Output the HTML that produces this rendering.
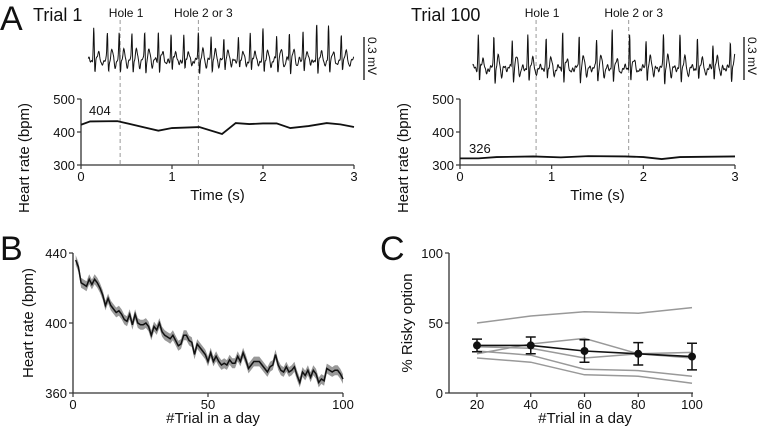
<!DOCTYPE html>
<html><head><meta charset="utf-8"><style>
html,body{margin:0;padding:0;background:#fff;}
svg{display:block;font-family:"Liberation Sans",Arial,sans-serif;}
text{fill:#111;}
</style></head><body>
<svg id="fig" width="758" height="432" viewBox="0 0 758 432" xmlns="http://www.w3.org/2000/svg">
<g id="root"></g>
</svg>
<script>
// ---------- Data ----------
const ecgLeftPeaks = [0.14,0.29,0.42,0.56,0.70,0.85,0.99,1.13,1.29,1.43,1.57,1.73,1.86,2.00,2.15,2.29,2.44,2.59,2.72,2.86];
const ecgLeftAmps  = [0.95,0.85,0.8,0.85,0.95,0.9,0.8,0.78,0.85,0.8,0.78,0.7,0.8,0.95,0.75,0.85,1.0,1.05,1.05,0.7];
const ecgRightPeaks = [0.20,0.37,0.57,0.74,0.94,1.12,1.30,1.49,1.66,1.85,2.03,2.22,2.40,2.59,2.76,2.95];
const ecgRightAmps  = [0.85,0.9,0.8,0.8,0.75,0.95,0.95,0.8,1.0,0.9,0.8,0.95,0.8,0.7,0.65,0.7];
const hrLeftT = [0,0.1,0.4,0.85,1.0,1.3,1.55,1.7,1.85,2.0,2.15,2.3,2.5,2.7,2.85,3.0];
const hrLeftV = [422,432,433,404,412,415,394,427,424,426,426,412,418,427,423,415];
const hrRightT = [0,0.2,0.4,0.8,1.1,1.4,1.8,2.0,2.2,2.4,3.0];
const hrRightV = [320,320,324,326,323,327,326,324,318,324,326];
const holeLeft = [0.43,1.29];
const holeRight = [0.83,1.84];
const hrTicks = [300,400,500];
const timeTicks = [0,1,2,3];
const trialHR = [436,432,423,422,421,425,422,425,423,420,416,410,414,410,408,406,407,405,402,401,405,399,405,400,399,399,400,398,393,398,396,400,395,393,392,391,393,390,387,388,393,393,390,389,382,388,386,384,382,378,383,378,381,378,376,377,376,379,377,377,381,378,383,379,374,376,378,378,378,376,374,372,375,376,382,376,373,372,375,372,373,375,370,366,372,370,373,369,373,371,366,368,367,374,373,372,373,373,371,368];
const trialSEM = 2.8;
const bYTicks = [360,400,440];
const bXTicks = [0,50,100];
const cX = [20,40,60,80,100];
const cMean = [34,34,30,28,26];
const cErr = [4.5,6,8,8,9.5];
const cInd1 = [50,55,58,57,61];
const cInd2 = [28,35,39,28,29];
const cInd3 = [33,32,25,28,25];
const cInd4 = [30,27,17,16,12];
const cInd5 = [25,22,13,12,7];
const cYTicks = [0,50,100];

// ---------- helpers ----------
const NS="http://www.w3.org/2000/svg";
const root=document.getElementById('root');
function mk(tag,attrs,parent){const e=document.createElementNS(NS,tag);for(const k in attrs)e.setAttribute(k,attrs[k]);(parent||root).appendChild(e);return e;}
function txt(x,y,s,size,anchor,parent,rot){const e=mk('text',{x:x,y:y,'font-size':size,'text-anchor':anchor||'start'},parent);if(rot)e.setAttribute('transform',`rotate(${rot} ${x} ${y})`);e.textContent=s;return e;}
function lin(d0,d1,r0,r1){return v=>r0+(v-d0)/(d1-d0)*(r1-r0);}
const AX='#333';
const TK=13, TT=15;

function axesA(g,x0,x1,yTop,yBot){
  const xs=lin(0,3,x0,x1), ys=lin(300,500,yBot,yTop);
  mk('line',{x1:x0,y1:ys(500),x2:x0,y2:yBot,stroke:AX,'stroke-width':1.3},g);
  mk('line',{x1:x0,y1:yBot,x2:x1,y2:yBot,stroke:AX,'stroke-width':1.3},g);
  hrTicks.forEach(v=>{mk('line',{x1:x0-4,y1:ys(v),x2:x0,y2:ys(v),stroke:AX,'stroke-width':1.2},g);
    const t=txt(x0-6,ys(v)+5,String(v),TK,'end',g);});
  timeTicks.forEach(v=>{mk('line',{x1:xs(v),y1:yBot,x2:xs(v),y2:yBot+4,stroke:AX,'stroke-width':1.2},g);
    const t=txt(xs(v),yBot+16,String(v),TK,'middle',g);});
  const yl=txt(x0-52,(yTop+yBot)/2+26,'Heart rate (bpm)',TT,'middle',g,-90);
  
  const xl=txt((x0+x1)/2,yBot+35,'Time (s)',TT,'middle',g);
  
  return {xs,ys};
}
function ecgPath(peaks,amps,xs,base,scale,t0){
  let d='';
  for(let t=t0;t<=3.0001;t+=0.003){
    let v=0;
    peaks.forEach((p,i)=>{const a=amps[i],dt=t-p;
      v+=a*Math.exp(-(dt*dt)/(2*0.005*0.005));
      v-=0.45*a*Math.exp(-((dt-0.013)**2)/(2*0.005*0.005));
      v+=0.28*Math.exp(-((dt-0.05)**2)/(2*0.012*0.012));
      v-=0.18*Math.exp(-((dt-0.085)**2)/(2*0.01*0.01));
    });
    v+=0.06*Math.sin(t*95)+0.04*Math.sin(t*231);
    d+=(d?'L':'M')+xs(t).toFixed(1)+','+(base-v*scale).toFixed(1);
  }
  return d;
}
function panelA(name,x0,x1,peaks,amps,holes,hrT,hrV,title,label,labelPos,base,scale,t0,sbx){
  const g=mk('g',{});
  const {xs,ys}=axesA(g,x0,x1,99,165);
  const tt=txt(title.x,21,title.s,18,'start',g);
  holes.forEach((h,i)=>{
    const l=mk('line',{x1:xs(h),y1:20,x2:xs(h),y2:165,stroke:'#999','stroke-width':1,'stroke-dasharray':'4,3'},g);
    
    const t=txt(xs(h)+(i?5:6),17,i?'Hole 2 or 3':'Hole 1',12,'middle',g);
  });
  const e=mk('path',{d:ecgPath(peaks,amps,xs,base,scale,t0),fill:'none',stroke:'#111','stroke-width':1},g);
  
  const sb=mk('line',{x1:sbx,y1:37,x2:sbx,y2:80,stroke:'#111','stroke-width':1.3},g);
  
  const st=txt(sbx+4,37,'0.3 mV',12,'start',g,90);
  const hp=mk('path',{d:hrT.map((t,i)=>(i?'L':'M')+xs(t)+','+ys(hrV[i])).join(''),fill:'none',stroke:'#111','stroke-width':1.8},g);
  
  const lb=txt(labelPos,label.y,label.s,TK,'start',g);
}
const A=txt(0,30,'A',34,'start');
panelA('panel-a-trial1',81,354,ecgLeftPeaks,ecgLeftAmps,holeLeft,hrLeftT,hrLeftV,{x:33,s:'Trial 1'},{s:'404',y:115},89,60,32,0.08,364);
panelA('panel-a-trial100',460,735,ecgRightPeaks,ecgRightAmps,holeRight,hrRightT,hrRightV,{x:411,s:'Trial 100'},{s:'326',y:153},469,68,38,0.14,744);

// ---------- Panel B ----------
(function(){
  const g=mk('g',{});
  const L=txt(0,260,'B',34,'start',g);
  const x0=73,x1=343,yT=253,yB=393;
  const xs=lin(0,100,x0,x1), ys=lin(360,440,yB,yT);
  let up='',dn='';
  trialHR.forEach((v,i)=>{up+=(i?'L':'M')+xs(i+1).toFixed(1)+','+ys(v+trialSEM).toFixed(1);});
  for(let i=trialHR.length-1;i>=0;i--)dn+='L'+xs(i+1).toFixed(1)+','+ys(trialHR[i]-trialSEM).toFixed(1);
  const band=mk('path',{d:up+dn+'Z',fill:'#999',stroke:'none'},g);
  const ln=mk('path',{d:trialHR.map((v,i)=>(i?'L':'M')+xs(i+1).toFixed(1)+','+ys(v).toFixed(1)).join(''),fill:'none',stroke:'#111','stroke-width':1.5},g);
  
  mk('line',{x1:x0,y1:yT,x2:x0,y2:yB,stroke:AX,'stroke-width':1.3},g);
  mk('line',{x1:x0,y1:yB,x2:x1,y2:yB,stroke:AX,'stroke-width':1.3},g);
  bYTicks.forEach(v=>{mk('line',{x1:x0-4,y1:ys(v),x2:x0,y2:ys(v),stroke:AX,'stroke-width':1.2},g);
    const t=txt(x0-6,ys(v)+5,String(v),TK,'end',g);});
  bXTicks.forEach(v=>{mk('line',{x1:xs(v),y1:yB,x2:xs(v),y2:yB+4,stroke:AX,'stroke-width':1.2},g);
    const t=txt(xs(v),yB+16,String(v),TK,'middle',g);});
  const yl=txt(33,323,'Heart rate (bpm)',TT,'middle',g,-90);
  const xl=txt(213,423,'#Trial in a day',TT,'middle',g);
})();

// ---------- Panel C ----------
(function(){
  const g=mk('g',{});
  const L=txt(380,260,'C',34,'start',g);
  const x0=449,x1=693,yT=253,yB=393;
  const xs=lin(20,100,477,692), ys=lin(0,100,yB,yT);
  [cInd1,cInd2,cInd3,cInd4,cInd5].forEach(arr=>{
    const p=mk('path',{d:arr.map((v,i)=>(i?'L':'M')+xs(cX[i])+','+ys(v)).join(''),fill:'none',stroke:'#999','stroke-width':1.5},g);
    
  });
  const m=mk('path',{d:cMean.map((v,i)=>(i?'L':'M')+xs(cX[i])+','+ys(v)).join(''),fill:'none',stroke:'#111','stroke-width':1.6},g);
  
  cMean.forEach((v,i)=>{
    const x=xs(cX[i]);
    const eb=mk('path',{d:`M${x},${ys(v-cErr[i])}L${x},${ys(v+cErr[i])}M${x-5},${ys(v-cErr[i])}L${x+5},${ys(v-cErr[i])}M${x-5},${ys(v+cErr[i])}L${x+5},${ys(v+cErr[i])}`,stroke:'#111','stroke-width':1.5,fill:'none'},g);
    
    const c=mk('circle',{cx:x,cy:ys(v),r:4,fill:'#111'},g);
  });
  mk('line',{x1:x0,y1:yT,x2:x0,y2:yB,stroke:AX,'stroke-width':1.3},g);
  mk('line',{x1:x0,y1:yB,x2:x1,y2:yB,stroke:AX,'stroke-width':1.3},g);
  cYTicks.forEach(v=>{mk('line',{x1:x0-4,y1:ys(v),x2:x0,y2:ys(v),stroke:AX,'stroke-width':1.2},g);
    const t=txt(x0-6,ys(v)+5,String(v),TK,'end',g);});
  cX.forEach(v=>{mk('line',{x1:xs(v),y1:yB,x2:xs(v),y2:yB+4,stroke:AX,'stroke-width':1.2},g);
    const t=txt(xs(v),yB+16,String(v),TK,'middle',g);});
  const yl=txt(412,323,'% Risky option',TT,'middle',g,-90);
  const xl=txt(585,423,'#Trial in a day',TT,'middle',g);
})();
</script>
</body></html>
